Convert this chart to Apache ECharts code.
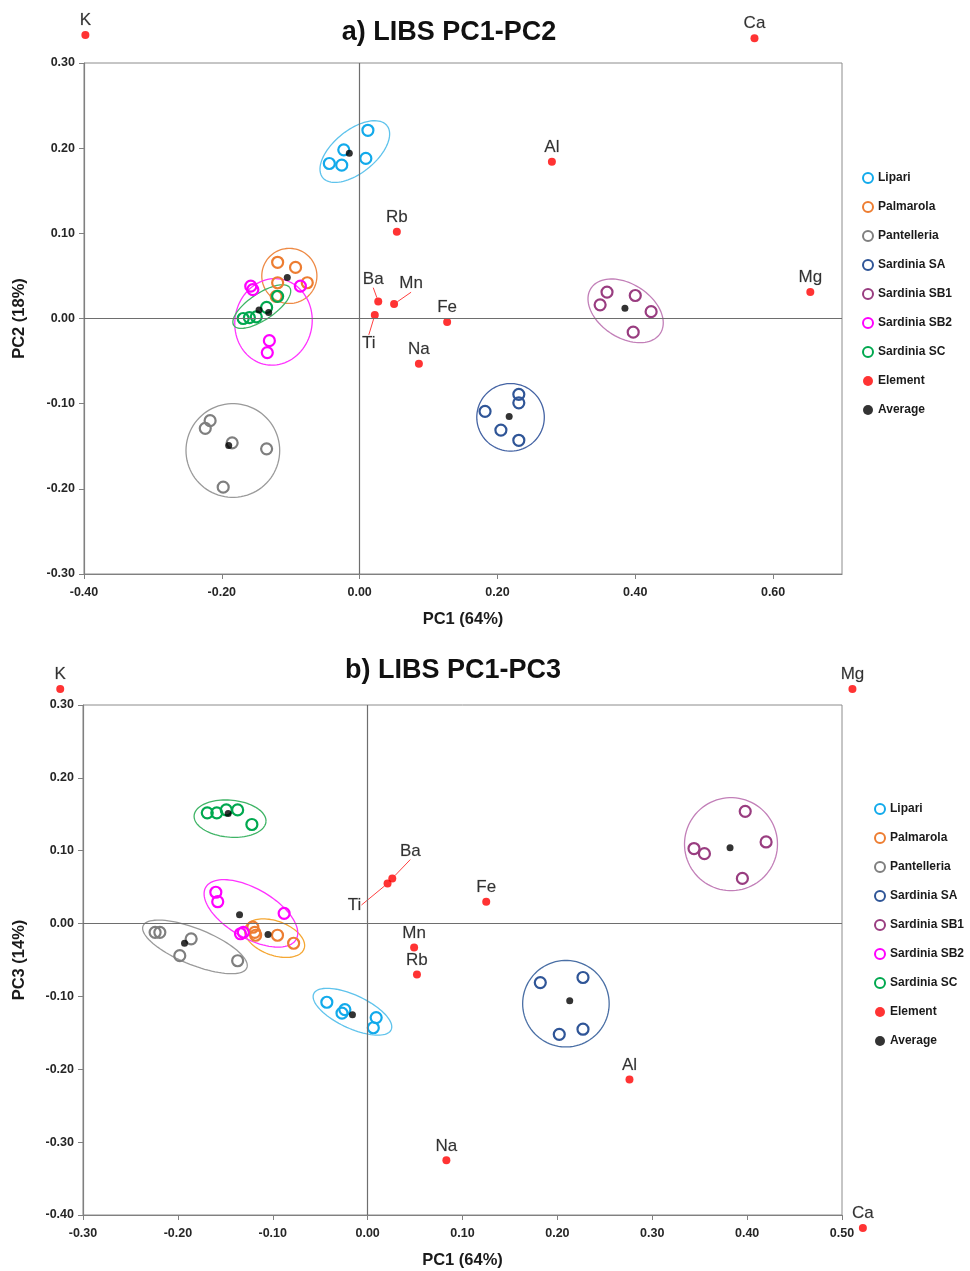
<!DOCTYPE html>
<html><head><meta charset="utf-8">
<script src="https://cdn.jsdelivr.net/npm/echarts@6/dist/echarts.min.js"></script>
<style>html,body{margin:0;padding:0;background:#fff}#c{width:970px;height:1271px}</style>
</head><body><div id="c"></div>
<script>
// ---------- DATA ----------
const groups = ['Lipari','Palmarola','Pantelleria','Sardinia SA','Sardinia SB1','Sardinia SB2','Sardinia SC'];

// a) PC1 vs PC2
const lipariA      = [[0.012,0.221],[-0.023,0.198],[-0.044,0.182],[-0.026,0.180],[0.009,0.188]];
const palmarolaA   = [[-0.119,0.066],[-0.093,0.060],[-0.119,0.042],[-0.076,0.042],[-0.121,0.026]];
const pantelleriaA = [[-0.217,-0.120],[-0.224,-0.129],[-0.185,-0.146],[-0.135,-0.153],[-0.198,-0.198]];
const sardSAA      = [[0.231,-0.089],[0.231,-0.099],[0.182,-0.109],[0.205,-0.131],[0.231,-0.143]];
const sardSB1A     = [[0.359,0.031],[0.349,0.016],[0.400,0.027],[0.423,0.008],[0.397,-0.016]];
const sardSB2A     = [[-0.158,0.038],[-0.155,0.034],[-0.086,0.038],[-0.131,-0.026],[-0.134,-0.040]];
const sardSCA      = [[-0.169,0.000],[-0.160,0.001],[-0.150,0.002],[-0.135,0.013],[-0.119,0.026]];
const averagesA    = [[-0.015,0.194],[-0.105,0.048],[-0.190,-0.149],[0.217,-0.115],[0.385,0.012],[-0.132,0.007],[-0.146,0.010]];
const elementNamesA  = ['K','Ca','Al','Rb','Ba','Mn','Ti','Fe','Na','Mg'];
const elementValuesA = [[-0.398,0.333],[0.573,0.329],[0.279,0.184],[0.054,0.102],[0.027,0.020],[0.050,0.017],[0.022,0.004],[0.127,-0.004],[0.086,-0.053],[0.654,0.031]];
// ellipses: [centre PC1, centre PC2, semi-axis a, semi-axis b (PC1 units), angle deg]
const ellipsesA = [[-0.007,0.196,0.060,0.031,39],[-0.102,0.050,0.040,0.040,0],[-0.184,-0.155,0.068,0.068,0],
  [0.219,-0.116,0.049,0.049,0],[0.386,0.009,0.060,0.039,-33],[-0.125,-0.004,0.063,0.056,80],[-0.142,0.014,0.049,0.019,34]];

// b) PC1 vs PC3
const lipariB      = [[-0.043,-0.108],[-0.027,-0.123],[-0.024,-0.118],[0.009,-0.129],[0.006,-0.143]];
const palmarolaB   = [[-0.121,-0.005],[-0.119,-0.012],[-0.118,-0.016],[-0.095,-0.016],[-0.078,-0.027]];
const pantelleriaB = [[-0.224,-0.012],[-0.219,-0.012],[-0.186,-0.021],[-0.198,-0.044],[-0.137,-0.051]];
const sardSAB      = [[0.182,-0.081],[0.227,-0.074],[0.202,-0.152],[0.227,-0.145]];
const sardSB1B     = [[0.398,0.154],[0.344,0.103],[0.355,0.096],[0.420,0.112],[0.395,0.062]];
const sardSB2B     = [[-0.160,0.043],[-0.158,0.030],[-0.088,0.014],[-0.134,-0.014],[-0.131,-0.012]];
const sardSCB      = [[-0.169,0.152],[-0.159,0.152],[-0.149,0.156],[-0.137,0.156],[-0.122,0.136]];
const averagesB    = [[-0.016,-0.125],[-0.105,-0.015],[-0.193,-0.027],[0.213,-0.106],[0.382,0.104],[-0.135,0.012],[-0.147,0.151]];
const elementNamesB  = ['K','Mg','Ca','Ba','Ti','Mn','Rb','Fe','Al','Na'];
const elementValuesB = [[-0.324,0.322],[0.511,0.322],[0.522,-0.418],[0.026,0.062],[0.021,0.055],[0.049,-0.033],[0.052,-0.070],[0.125,0.030],[0.276,-0.214],[0.083,-0.325]];
const ellipsesB = [[-0.016,-0.121,0.045,0.0174,-25],[-0.098,-0.020,0.033,0.018,-20],[-0.182,-0.032,0.059,0.019,-22],
  [0.209,-0.110,0.0456,0.0456,0],[0.383,0.109,0.049,0.049,0],[-0.123,0.014,0.055,0.026,-30],[-0.145,0.144,0.038,0.0195,-5]];

// ---------- STYLE ----------
const markerColors = ['#12aaeb','#ed7d31','#7f7f7f','#2f5597','#993d80','#ff00ff','#00a84f'];
const ellColorsA = ['#5fc3ec','#ee8a45','#9a9a9a','#4564a4','#c27fb8','#ff33ff','#3fb466'];
const ellColorsB = ['#5fc3ec','#f5a733','#9a9a9a','#4a6fa5','#c27fb8','#ff33ff','#3fb466'];
const labelOffsetsA = [[0,0],[0,0],[0,0],[0,0],[-5,-8],[17,-6],[-6,43],[0,0],[0,0],[0,0]];
const labelOffsetsB = [[0,0],[0,0],[0,0],[18,-13],[-33,36],[0,0],[0,0],[0,0],[0,0],[0,0]];
const FONT = 'Liberation Sans';

const groupDataA = [lipariA,palmarolaA,pantelleriaA,sardSAA,sardSB1A,sardSB2A,sardSCA];
const groupDataB = [lipariB,palmarolaB,pantelleriaB,sardSAB,sardSB1B,sardSB2B,sardSCB];

function fmt(v){ if (Math.abs(v) < 1e-9) v = 0; return v.toFixed(2); }

function makeEllipseRender(colors){
  return function(params, api){
    const c = api.coord([api.value(0), api.value(1)]);
    const a = api.size([api.value(2), 0])[0];
    const b = api.size([api.value(3), 0])[0];
    const th = api.value(4) * Math.PI / 180;
    const pts = [];
    for (let i = 0; i <= 90; i++){
      const t = i / 90 * 2 * Math.PI;
      const ex = a * Math.cos(t), ey = b * Math.sin(t);
      pts.push([c[0] + ex*Math.cos(th) - ey*Math.sin(th), c[1] - (ex*Math.sin(th) + ey*Math.cos(th))]);
    }
    return {type:'polyline', shape:{points:pts}, style:{stroke: colors[api.value(5)], fill:'none', lineWidth:1.3}, silent:true};
  };
}

function seriesFor(gi, groupData, averages, elNames, elValues, ellipses, ellColors, offsets){
  const out = [];
  out.push({
    type:'custom', name:'ellipse', xAxisIndex:gi, yAxisIndex:gi, clip:false, silent:true, z:1,
    renderItem: makeEllipseRender(ellColors),
    data: ellipses.map((e,i)=>e.concat([i]))
  });
  groups.forEach((g,i)=>{
    out.push({
      type:'scatter', name:g, xAxisIndex:gi, yAxisIndex:gi, symbol:'circle', symbolSize:11, z:3,
      itemStyle:{color:'rgba(255,255,255,0)', borderColor:markerColors[i], borderWidth:2.2, opacity:1},
      data: groupData[i]
    });
  });
  out.push({
    type:'scatter', name:'Element', xAxisIndex:gi, yAxisIndex:gi, symbol:'circle', symbolSize:8, clip:false, z:4,
    itemStyle:{color:'#ff0000'},
    label:{show:true, position:'top', distance:2, formatter:'{b}', fontSize:17, color:'#000', fontFamily:FONT,
      textBorderColor:'rgba(0,0,0,0.35)', textBorderWidth:0.4},
    labelLayout: function(p){ const o = offsets[p.dataIndex]; return {dx:o[0], dy:o[1]}; },
    data: elNames.map((n,i)=>{
      const o = offsets[i];
      const item = {name:n, value:elValues[i]};
      if (o[0] !== 0 || o[1] !== 0) item.labelLine = {show:true, lineStyle:{color:'#ff4040', width:1}};
      return item;
    }),
    markLine:{silent:true, symbol:'none', label:{show:false}, animation:false,
      lineStyle:{color:'#6e6e6e', width:1.2, type:'solid'},
      data:[{xAxis:0},{yAxis:0}]}
  });
  out.push({
    type:'scatter', name:'Average', xAxisIndex:gi, yAxisIndex:gi, symbol:'circle', symbolSize:7, z:5,
    itemStyle:{color:'#000'}, data: averages
  });
  return out;
}

const legendNames = groups.concat(['Element','Average']);
function legendData(){
  return legendNames.map((n,i)=>{
    if (i < groups.length) return {name:n, icon:'circle', itemStyle:{color:'rgba(255,255,255,0)', borderColor:markerColors[i], borderWidth:2}};
    return {name:n, icon:'circle', itemStyle:{color: n==='Element' ? '#ff0000' : '#000', borderWidth:0}};
  });
}

const legendText = {fontSize:12, fontWeight:'bold', color:'#1a1a1a', fontFamily:FONT, lineHeight:16};

const axisCommon = {
  axisLine:{show:true, onZero:false, lineStyle:{color:'#808080', width:1.2}},
  axisTick:{show:true, inside:false, length:5, lineStyle:{color:'#808080'}},
  splitLine:{show:false},
  axisLabel:{formatter:fmt, fontSize:12.5, fontWeight:'bold', color:'#262626', fontFamily:FONT},
  nameLocation:'middle',
  nameTextStyle:{fontSize:16.5, fontWeight:'bold', color:'#1a1a1a', fontFamily:FONT}
};

const option = {
  animation:false,
  backgroundColor:'#fff',
  title:[
    {text:'a) LIBS PC1-PC2', left:444, top:14, textAlign:'center', textStyle:{fontSize:27, fontWeight:'bold', color:'#111', fontFamily:FONT}},
    {text:'b) LIBS PC1-PC3', left:448, top:652, textAlign:'center', textStyle:{fontSize:27, fontWeight:'bold', color:'#111', fontFamily:FONT}}
  ],
  legend:[
    {orient:'vertical', left:857, top:165, itemWidth:10, itemHeight:10, itemGap:13, selectedMode:false,
      textStyle:legendText, data:legendData()},
    {orient:'vertical', left:869, top:796, itemWidth:10, itemHeight:10, itemGap:13, selectedMode:false,
      textStyle:legendText, data:legendData()}
  ],
  grid:[
    {left:84, top:63, width:758, height:511, show:true, borderColor:'#8c8c8c', borderWidth:1, containLabel:false},
    {left:83, top:705, width:759, height:510, show:true, borderColor:'#8c8c8c', borderWidth:1, containLabel:false}
  ],
  xAxis:[
    Object.assign({}, axisCommon, {gridIndex:0, type:'value', min:-0.4, max:0.7, interval:0.2, name:'PC1 (64%)', nameGap:37,
      axisLabel:Object.assign({}, axisCommon.axisLabel, {showMaxLabel:false, margin:12})}),
    Object.assign({}, axisCommon, {gridIndex:1, type:'value', min:-0.3, max:0.5, interval:0.1, name:'PC1 (64%)', nameGap:37,
      axisLabel:Object.assign({}, axisCommon.axisLabel, {margin:12})})
  ],
  yAxis:[
    Object.assign({}, axisCommon, {gridIndex:0, type:'value', min:-0.3, max:0.3, interval:0.1, name:'PC2 (18%)', nameGap:56,
      axisLabel:Object.assign({}, axisCommon.axisLabel, {margin:9})}),
    Object.assign({}, axisCommon, {gridIndex:1, type:'value', min:-0.4, max:0.3, interval:0.1, name:'PC3 (14%)', nameGap:55,
      axisLabel:Object.assign({}, axisCommon.axisLabel, {margin:9})})
  ],
  series: [].concat(
    seriesFor(0, groupDataA, averagesA, elementNamesA, elementValuesA, ellipsesA, ellColorsA, labelOffsetsA),
    seriesFor(1, groupDataB, averagesB, elementNamesB, elementValuesB, ellipsesB, ellColorsB, labelOffsetsB)
  )
};

const chart = echarts.init(document.getElementById('c'), null, {renderer:'canvas'});
chart.setOption(option);
</script>
</body></html>
